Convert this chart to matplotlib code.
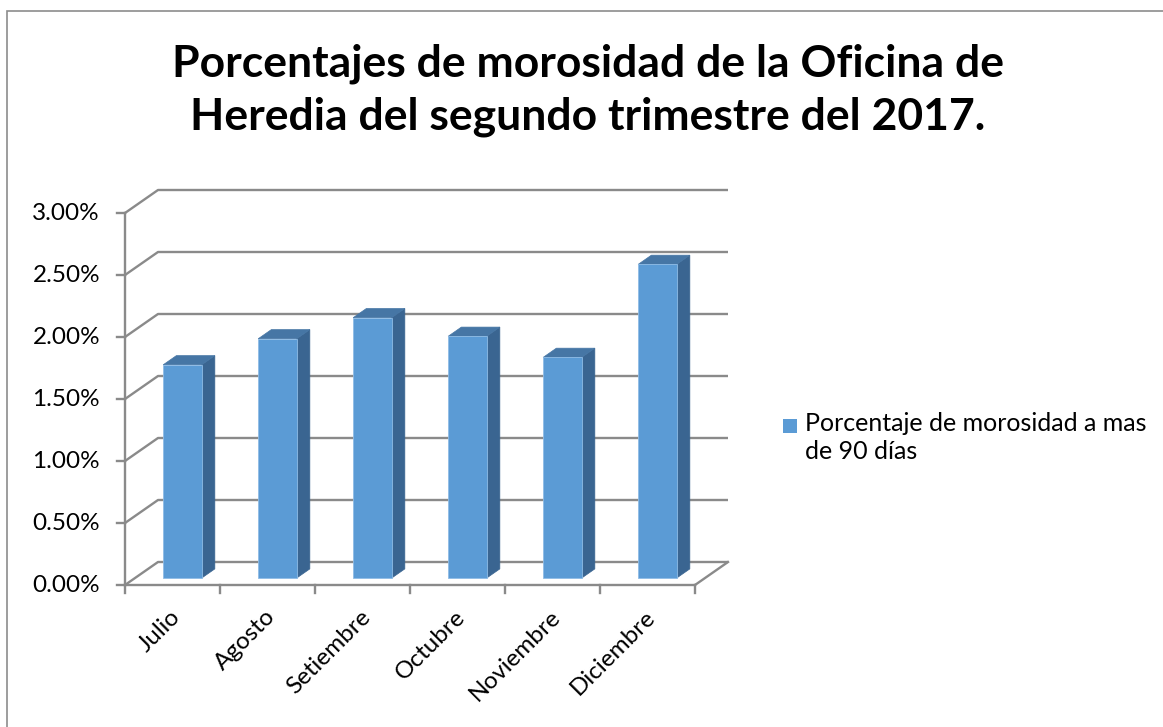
import matplotlib.pyplot as plt
from matplotlib.patches import Polygon, Rectangle

# monthly delinquency (%) over 90 days
meses = ['Julio', 'Agosto', 'Setiembre', 'Octubre', 'Noviembre', 'Diciembre']
morosidad = [1.72, 1.93, 2.10, 1.95, 1.78, 2.53]
ticks_y = [0.0, 0.5, 1.0, 1.5, 2.0, 2.5, 3.0]
etiquetas_y = ['0.00%', '0.50%', '1.00%', '1.50%', '2.00%', '2.50%', '3.00%']
titulo = 'Porcentajes de morosidad de la Oficina de\nHeredia del segundo trimestre del 2017.'
leyenda = 'Porcentaje de morosidad a mas\nde 90 días'

plt.rcParams['font.family'] = ['Lato', 'DejaVu Sans']

W, H = 1163, 727
fig = plt.figure(figsize=(W / 100, H / 100), dpi=100)
fig.patch.set_facecolor('white')

# plot area: category axis 0..6, value axis 0..3 %
ax = fig.add_axes([125 / W, (H - 585) / H, 570 / W, 372 / H])
ax.set_xlim(0, 6)
ax.set_ylim(0, 3)
ax.axis('off')

px = 6 / 570    # one pixel in x data units
py = 3 / 372    # one pixel in y data units
DX = 33 * px    # depth of the 3d box
DY = 23 * py
n = len(meses)


def p(x, y, d):
    # oblique projection of a point at depth d (0 front, 1 back)
    return (x + d * DX, y + d * DY)


gris = '#8a8a8a'
lw = 1.7
fs = 17.5

# walls: gridlines on side and back wall
for v in ticks_y:
    xs, ys = zip(p(0, v, 0), p(0, v, 1), p(n, v, 1))
    ax.plot(xs, ys, color=gris, lw=lw, clip_on=False, zorder=1,
            solid_capstyle='butt')
# floor right edge
xs, ys = zip(p(n, 0, 1), p(n, 0, 0))
ax.plot(xs, ys, color=gris, lw=lw, clip_on=False, zorder=1)

# value axis and category axis
ax.plot([0, 0], [0, 3], color=gris, lw=lw, clip_on=False, zorder=3)
ax.plot([0, n], [0, 0], color=gris, lw=lw, clip_on=False, zorder=3)
for v, lab in zip(ticks_y, etiquetas_y):
    ax.plot([-8 * px, 0], [v, v], color=gris, lw=lw, clip_on=False, zorder=3)
    ax.text(-25 * px, v, lab, ha='right', va='center', fontsize=fs,
            color='black')
for i in range(n + 1):
    ax.plot([i, i], [0, -8 * py], color=gris, lw=lw, clip_on=False, zorder=3)

# 3d bars
ancho = 0.405
d0, d1 = 0.3, 0.7
c_frente = '#5b9bd5'
c_lado = '#3a6591'
c_tope = '#4676a5'
for i, v in enumerate(morosidad):
    c = i + 0.5
    xl, xr = c - ancho / 2, c + ancho / 2
    frente = [p(xl, 0, d0), p(xr, 0, d0), p(xr, v, d0), p(xl, v, d0)]
    lado = [p(xr, 0, d0), p(xr, 0, d1), p(xr, v, d1), p(xr, v, d0)]
    tope = [p(xl, v, d0), p(xr, v, d0), p(xr, v, d1), p(xl, v, d1)]
    ax.add_patch(Polygon(lado, closed=True, fc=c_lado, ec=c_lado, lw=0.5,
                         clip_on=False, zorder=4))
    ax.add_patch(Polygon(tope, closed=True, fc=c_tope, ec=c_tope, lw=0.5,
                         clip_on=False, zorder=4))
    ax.add_patch(Polygon(frente, closed=True, fc=c_frente, ec='#8fbce6',
                         lw=0.6, clip_on=False, zorder=5))
    ax.text(c - 3 * px, -21 * py, meses[i], rotation=45, rotation_mode='anchor',
            ha='right', va='top', fontsize=fs, color='black')

# title
fig.text(588 / W, 1 - 43 / H, titulo, ha='center', va='top', fontsize=32,
         fontweight='bold', linespacing=1.4)

# legend
fig.add_artist(Rectangle((783 / W, 1 - 433 / H), 14 / W, 14 / H,
                         transform=fig.transFigure, fc=c_frente, ec='none'))
fig.text(805 / W, 1 - 412 / H, leyenda, ha='left', va='top', fontsize=18,
         linespacing=1.25)

# chart border
fig.add_artist(Rectangle((7 / W, -0.05), 1.1, 1 - 11 / H + 0.05,
                         transform=fig.transFigure, fc='none', ec='#8c8c8c',
                         lw=1.2))

fig.savefig('out.png', dpi=100)
